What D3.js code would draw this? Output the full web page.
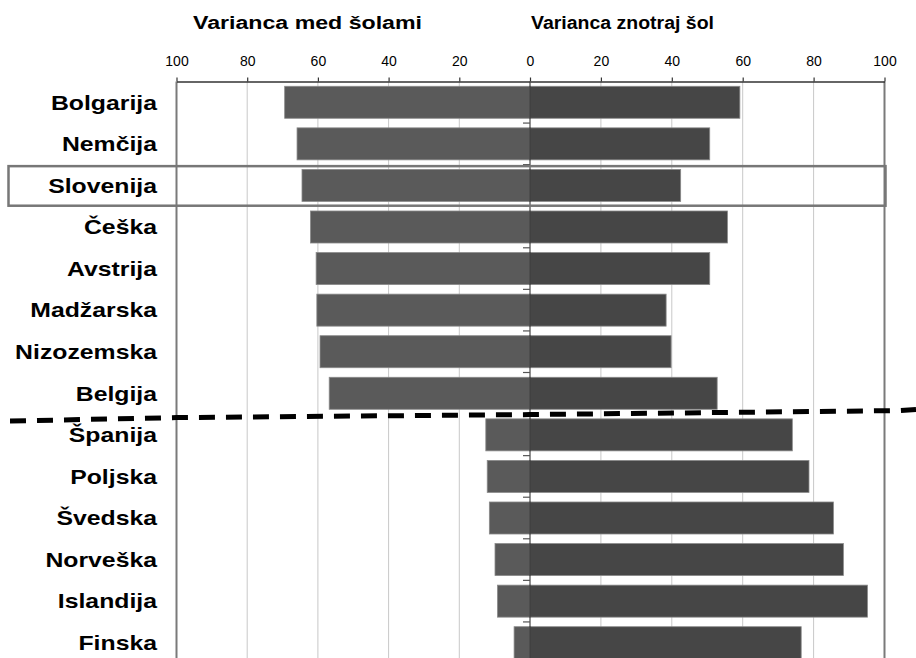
<!DOCTYPE html>
<html lang="sl">
<head>
    <meta charset="UTF-8">
    <title>Varianca</title>
    <script src="https://d3js.org/d3.v7.min.js"></script>
    <style>
        body { margin: 0; background: #fff; }
        text { font-family: "Liberation Sans", Arial, sans-serif; fill: #000; }
    </style>
</head>
<body>
    <script>
        const countries = ["Bolgarija", "Nemčija", "Slovenija", "Češka", "Avstrija", "Madžarska",
                           "Nizozemska", "Belgija", "Španija", "Poljska", "Švedska", "Norveška",
                           "Islandija", "Finska"];
        const betweenSchools = [69.4, 65.9, 64.5, 62.1, 60.5, 60.3, 59.4, 56.8, 12.5, 12.1, 11.5, 9.9, 9.2, 4.5];
        const withinSchools  = [59.2, 50.7, 42.5, 55.7, 50.7, 38.4, 39.8, 52.8, 74.0, 78.7, 85.6, 88.4, 95.2, 76.5];
        const tickValues = [0, 20, 40, 60, 80, 100];
        const titles = ["Varianca med šolami", "Varianca znotraj šol"];
        const highlighted = "Slovenija";
        const splitBefore = "Španija";

        const w = 916;
        const h = 658;
        const plotLeft = 176.5, plotMid = 530, plotRight = 884.5;
        const plotTop = 81.5, plotBottom = 663.5;

        const svg = d3.select("body")
                        .append("svg")
                        .attr("width", w)
                        .attr("height", h);

        const xLeft = d3.scaleLinear().domain([100, 0]).range([plotLeft, plotMid]);
        const xRight = d3.scaleLinear().domain([0, 100]).range([plotMid, plotRight]);
        const y = d3.scaleBand()
                     .domain(countries)
                     .range([plotTop, plotBottom])
                     .paddingInner(0.23)
                     .paddingOuter(0.115);

        // grid lines
        const grid = svg.append("g");
        tickValues.filter(d => d > 0 && d < 100).forEach(d => {
            [xLeft(d), xRight(d)].forEach(x => {
                grid.append("line")
                    .attr("x1", x).attr("x2", x)
                    .attr("y1", plotTop).attr("y2", h)
                    .attr("stroke", "#c8c8c8")
                    .attr("stroke-width", 1);
            });
        });

        // bars
        svg.selectAll("rect.left")
            .data(countries)
            .enter()
            .append("rect")
            .attr("class", "left")
            .attr("x", (d, i) => xLeft(betweenSchools[i]))
            .attr("y", d => y(d))
            .attr("width", (d, i) => plotMid - xLeft(betweenSchools[i]))
            .attr("height", y.bandwidth())
            .attr("fill", "#5a5a5a")
            .attr("stroke", "#8a8a8a")
            .attr("stroke-width", 0.8);

        svg.selectAll("rect.right")
            .data(countries)
            .enter()
            .append("rect")
            .attr("class", "right")
            .attr("x", plotMid)
            .attr("y", d => y(d))
            .attr("width", (d, i) => xRight(withinSchools[i]) - plotMid)
            .attr("height", y.bandwidth())
            .attr("fill", "#464646")
            .attr("stroke", "#8a8a8a")
            .attr("stroke-width", 0.8);

        // frame
        svg.append("line")
            .attr("x1", plotLeft).attr("x2", plotLeft)
            .attr("y1", plotTop).attr("y2", h)
            .attr("stroke", "#7a7a7a").attr("stroke-width", 2);
        svg.append("line")
            .attr("x1", plotRight).attr("x2", plotRight)
            .attr("y1", plotTop).attr("y2", h)
            .attr("stroke", "#7a7a7a").attr("stroke-width", 2);
        svg.append("line")
            .attr("x1", plotMid).attr("x2", plotMid)
            .attr("y1", plotTop).attr("y2", h)
            .attr("stroke", "#222").attr("stroke-width", 1);

        // small ticks on the centre line between rows
        const step = y.step();
        const gap = (step - y.bandwidth()) / 2;
        svg.selectAll("line.rowtick")
            .data(countries.slice(1))
            .enter()
            .append("line")
            .attr("class", "rowtick")
            .attr("x1", plotMid - 7).attr("x2", plotMid)
            .attr("y1", d => y(d) - gap)
            .attr("y2", d => y(d) - gap)
            .attr("stroke", "#555")
            .attr("stroke-width", 1.2);

        // top axes
        const axisL = d3.axisTop(xLeft).tickValues(tickValues.filter(d => d > 0)).tickSize(4).tickSizeOuter(0);
        const axisR = d3.axisTop(xRight).tickValues(tickValues).tickSize(4).tickSizeOuter(0);
        [axisL, axisR].forEach(ax => {
            const g = svg.append("g")
                .attr("transform", "translate(0," + plotTop + ")")
                .call(ax);
            g.select(".domain").attr("stroke", "#333").attr("stroke-width", 1.5);
            g.selectAll(".tick line").attr("stroke", "#333").attr("stroke-width", 1.2);
            g.selectAll(".tick text")
                .attr("y", -16)
                .attr("dy", 0)
                .style("font-size", "14px")
                .style("font-family", "'Liberation Sans', Arial, sans-serif")
                .attr("fill", "#000");
        });

        // titles
        const titleX = [193, 531];
        const titleW = [229, 183];
        svg.selectAll("text.title")
            .data(titles)
            .enter()
            .append("text")
            .attr("class", "title")
            .attr("x", (d, i) => titleX[i])
            .attr("y", 29)
            .attr("textLength", (d, i) => titleW[i])
            .attr("lengthAdjust", "spacingAndGlyphs")
            .style("font-size", "18px")
            .style("font-weight", "bold")
            .text(d => d);

        // country labels
        svg.selectAll("text.cat")
            .data(countries)
            .enter()
            .append("text")
            .attr("class", "cat")
            .attr("text-anchor", "end")
            .attr("transform", d => "translate(157," + (y(d) + y.bandwidth() / 2 + 7.3) + ") scale(1.24,1)")
            .style("font-size", "20px")
            .style("font-weight", "bold")
            .text(d => d);

        // highlight box around Slovenija
        const hy = y(highlighted) - gap;
        svg.append("rect")
            .attr("x", 8.5)
            .attr("y", hy + 1.5)
            .attr("width", 877)
            .attr("height", step - 2)
            .attr("fill", "none")
            .attr("stroke", "#777")
            .attr("stroke-width", 2.5);

        // dashed separator between the two groups
        const sepY = y(splitBefore) - gap;
        const sepPts = [[10, sepY + 7], [plotLeft, sepY + 3.5], [plotMid, sepY + 0.5], [900, sepY - 3.5], [916, sepY - 4.5]];
        svg.append("path")
            .attr("d", d3.line()(sepPts))
            .attr("fill", "none")
            .attr("stroke", "#000")
            .attr("stroke-width", 5)
            .attr("stroke-dasharray", "16,11");
    </script>
</body>
</html>
